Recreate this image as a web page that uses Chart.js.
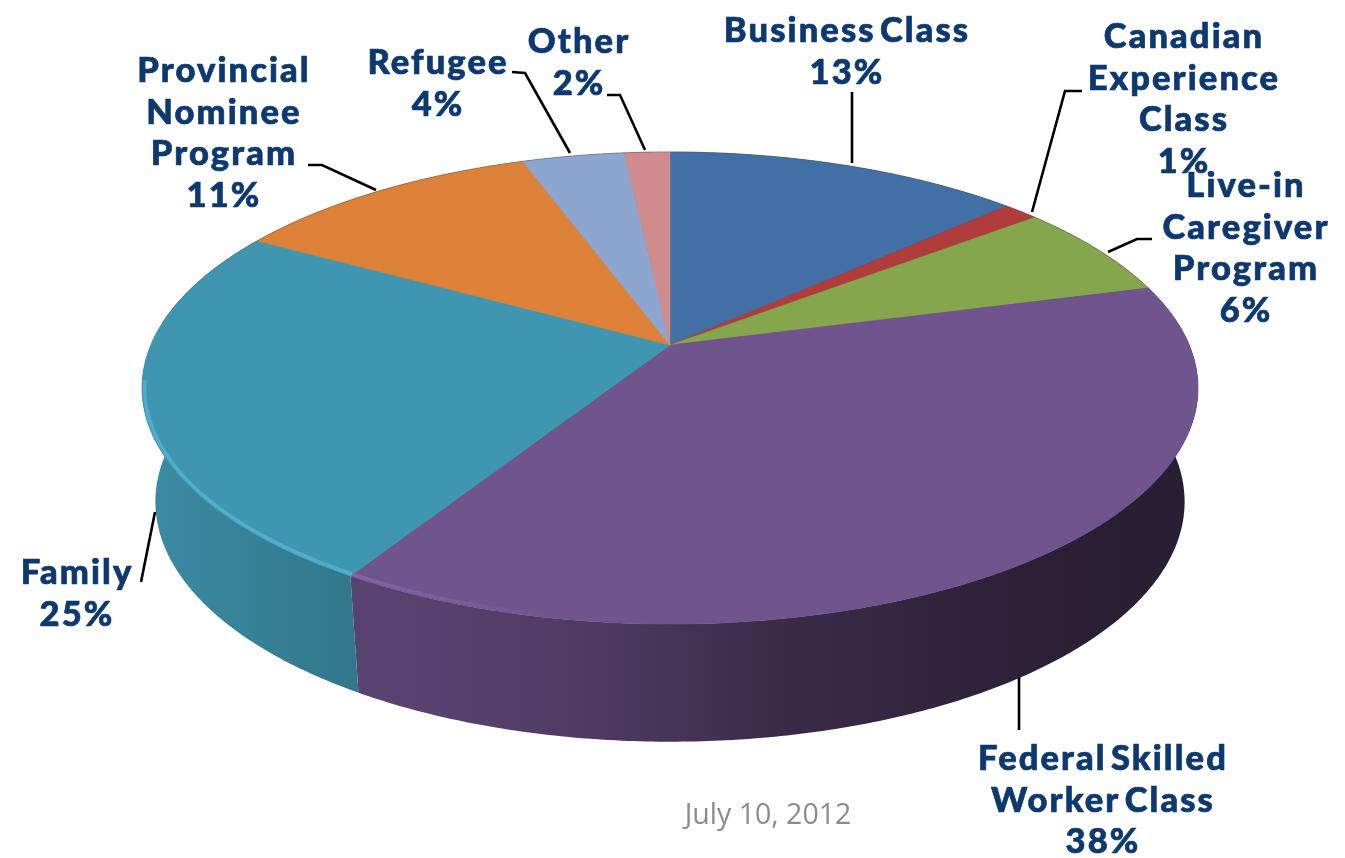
<!DOCTYPE html>
<html><head><meta charset="utf-8">
<style>html,body{margin:0;padding:0;background:#fff}canvas{display:block}</style>
<script src="https://cdn.jsdelivr.net/npm/chart.js@4"></script>
</head><body><canvas id="c" width="1345" height="858"></canvas>
<script>
const categories = ["Business Class","Canadian Experience Class","Live-in Caregiver Program","Federal Skilled Worker Class","Family","Provincial Nominee Program","Refugee","Other"];
const values = [13.0,1.3,6.49,37.91,24.6,11.3,3.75,1.65];
const percentLabels = ["13%","1%","6%","38%","25%","11%","4%","2%"];
const colors = ["#416fa6","#b03d3b","#85a64c","#70548d","#3f96b0","#dc8137","#8ca6d0","#d08c8c"];
const labelLines = [["Business Class"],["Canadian","Experience","Class"],["Live-in","Caregiver","Program"],["Federal Skilled","Worker Class"],["Family"],["Provincial","Nominee","Program"],["Refugee"],["Other"]];
const dateText = "July 10, 2012";

// layout only
const labelPos = [[846,42],[1183,48],[1245,197],[1102,770],[76,584],[223,82],[437,74],[578,53]];
const leaders = [
 [[852,92],[852,163]],
 [[1082,91],[1065,91],[1032,212]],
 [[1152,239],[1137,239],[1108,252]],
 [[1019,677],[1019,730]],
 [[155,512],[141,582]],
 [[308,165],[322,165],[376,190]],
 [[512,72],[525,73],[570,153]],
 [[607,95],[620,95],[645,150]]
];
const topFace = {cx:670, ay:345, A:519.2, D:228.2, k:-0.1822};
const baseFace = {cx:670, ay:458, A:506, D:232, k:-0.1822};
const lineStep = 41.7;
const font = "900 34.5px Lato";

function proj(f,a){const u=Math.cos(a),v=Math.sin(a),w=1+f.k*v;return [f.cx+f.A*u/w,f.ay+f.D*v/w];}
function edge(f,a0,a1){const n=Math.max(2,Math.ceil((a1-a0)/0.01)),p=[];for(let i=0;i<=n;i++)p.push(proj(f,a0+(a1-a0)*i/n));return p;}
function rgb(h){return [1,3,5].map(i=>parseInt(h.substr(i,2),16));}
function shade(h,s){const c=rgb(h).map(x=>Math.min(255,Math.round(x*s)));return `rgb(${c.join(",")})`;}
function light(h,al){const c=rgb(h).map(x=>Math.min(255,Math.round(x*1.12+8)));return `rgba(${c.join(",")},${al})`;}
function poly(ctx,pts){ctx.beginPath();pts.forEach((p,i)=>i?ctx.lineTo(p[0],p[1]):ctx.moveTo(p[0],p[1]));ctx.closePath();}

const pie3d = {
 id:"pie3d",
 beforeDatasetsDraw(chart){
  const c=chart.ctx, el=chart.getDatasetMeta(0).data[0];
  c.save();
  // the library's own arcs lie on the outer ellipse of the top face
  c.translate(670,388); c.scale(528/el.outerRadius,236/el.outerRadius); c.translate(-el.x,-el.y);
 },
 afterDatasetsDraw(chart){
  const c=chart.ctx, arcs=chart.getDatasetMeta(0).data;
  c.restore();
  // side wall
  arcs.forEach((el,i)=>{
   const a0=el.startAngle,a1=el.endAngle;
   const g=c.createLinearGradient(142,0,1198,0);
   [[0,.93],[.2,.79],[.22,.80],[.4,.72],[.6,.52],[.85,.38],[1,.36]].forEach(s=>g.addColorStop(s[0],shade(colors[i],s[1])));
   poly(c,edge(topFace,a0,a1).concat(edge(baseFace,a0,a1).reverse()));
   c.fillStyle=g;c.fill();
  });
  // top face
  arcs.forEach((el,i)=>{
   poly(c,[[topFace.cx,topFace.ay]].concat(edge(topFace,el.startAngle,el.endAngle)));
   c.fillStyle=colors[i];c.fill();
   c.strokeStyle=colors[i];c.lineWidth=.6;c.stroke();
  });
  // rim light at the front left, thin grey line at the back
  const rimEnd=Math.PI-0.15;
  arcs.forEach((el,i)=>{
   const g=c.createLinearGradient(142,0,700,0);
   g.addColorStop(0,light(colors[i],.95));g.addColorStop(.38,light(colors[i],.95));g.addColorStop(.75,light(colors[i],0));g.addColorStop(1,light(colors[i],0));
   const a0=Math.max(el.startAngle,0),a1=Math.min(el.endAngle,rimEnd);
   if(a1>a0){
    c.beginPath();
    edge(topFace,a0,a1).forEach((q,j)=>{
     const x=670+(q[0]-670)*.995,y=388+(q[1]-388)*.99;
     j?c.lineTo(x,y):c.moveTo(x,y);
    });
    c.strokeStyle=g;c.lineWidth=3.5;c.stroke();
   }
  });
  c.beginPath();edge(topFace,rimEnd+0.25,Math.PI*2).forEach((q,j)=>j?c.lineTo(q[0],q[1]):c.moveTo(q[0],q[1]));
  c.strokeStyle="rgba(90,90,100,.45)";c.lineWidth=1;c.stroke();
  // leader lines
  c.strokeStyle="#000";c.lineWidth=2.6;c.lineJoin="miter";
  leaders.forEach(l=>{c.beginPath();l.forEach((p,j)=>j?c.lineTo(p[0],p[1]):c.moveTo(p[0],p[1]));c.stroke();});
  // labels
  c.font=font;c.fillStyle="#0d3970";c.strokeStyle="#0d3970";c.lineWidth=.7;c.textAlign="center";c.textBaseline="alphabetic";
  c.letterSpacing="2.1px";c.wordSpacing="-6px";
  categories.forEach((n,i)=>{
   const lines=labelLines[i].concat(percentLabels[i]);
   lines.forEach((t,j)=>{
    const x=labelPos[i][0]+1,y=labelPos[i][1]+j*lineStep;
    c.fillText(t,x,y);c.strokeText(t,x,y);
   });
  });
  c.letterSpacing="0px";c.wordSpacing="0px";
  c.font="28.5px 'Open Sans'";c.fillStyle="#8c8c8c";
  c.fillText(dateText,768,824);
 }
};

new Chart(document.getElementById("c"),{
 type:"pie",
 data:{labels:categories,datasets:[{data:values,backgroundColor:colors,borderWidth:0}]},
 options:{responsive:false,devicePixelRatio:1,animation:false,
  plugins:{legend:{display:false},tooltip:{enabled:false},title:{display:false}}},
 plugins:[pie3d]
});
</script></body></html>
